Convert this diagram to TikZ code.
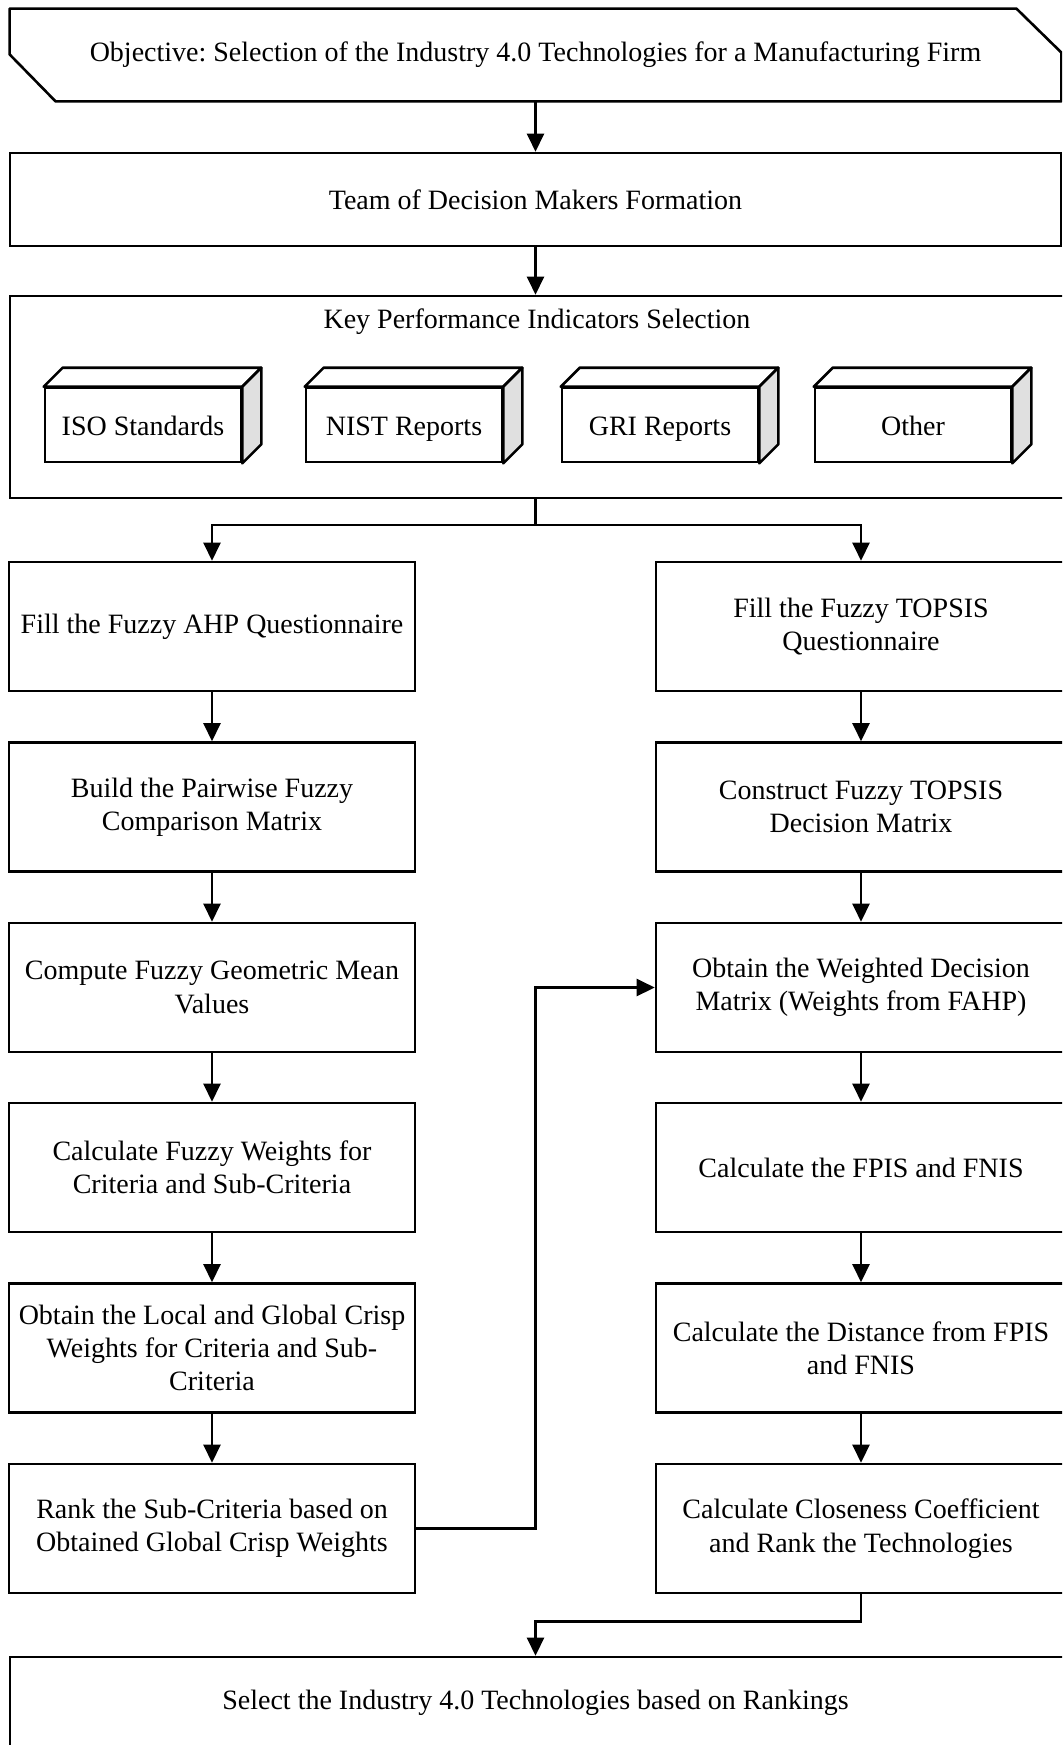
\documentclass[tikz,border=0pt]{standalone}
\usepackage{fontspec}
\setmainfont{Liberation Serif}
\usetikzlibrary{arrows.meta,calc}

\begin{document}
\frenchspacing
\begin{tikzpicture}[x=0.5pt,y=-0.5pt,
  font=\fontsize{14pt}{16.7pt}\selectfont,
  box/.style={draw, line width=1.3pt, align=center, inner sep=0pt},
  lcol/.style={box, minimum width=203pt, minimum height=64.5pt},
  rcol/.style={box, minimum width=205pt, minimum height=64.5pt},
  cubebox/.style={box, fill=white, minimum width=98pt, minimum height=37pt,
    text height=11pt, text depth=1pt},
  face/.style={draw, line width=1.3pt, line join=round},
  link/.style={line width=1.2pt},
  flow/.style={link, -{Triangle[length=9pt,width=8.5pt]}},
]
\useasboundingbox (0,0) rectangle (1062,1745);
\clip (0,0) rectangle (1062,1745);
\fill[white] (0,0) rectangle (1062,1745);

% objective (chamfered at top right and bottom left)
\node[inner sep=0pt, minimum width=525.5pt, minimum height=46pt] (obj) at (535.5,55)
  {Objective: Selection of the Industry 4.0 Technologies for a Manufacturing Firm};
\draw[face] (obj.north west) -- ($(obj.north east)+(-45,0)$) -- ($(obj.north east)+(0,44)$)
  -- (obj.south east) -- ($(obj.south west)+(46,0)$) -- ($(obj.south west)+(0,-47)$) -- cycle;

% team formation
\node[box, minimum width=525.5pt, minimum height=46.5pt] (team) at (535.5,199.5)
  {Team of Decision Makers Formation};

% KPI selection with its sources
\node[box, minimum width=532.5pt, minimum height=101pt] (key) at (542.5,397) {};
\node (kpi) at (537,322) {Key Performance Indicators Selection};

\newcommand{\cubeat}[3]{%
  \node[cubebox] (#1) at (#2,425) {#3};
  \draw[face, fill=white] (#1.north west) -- ++(19,-19) -- ($(#1.north east)+(19,-19)$)
    -- (#1.north east) -- cycle;
  \draw[face, fill=black!12] (#1.north east) -- ++(19,-19) -- ($(#1.south east)+(19,-19)$)
    -- (#1.south east) -- cycle;
}
\cubeat{iso}{143}{ISO Standards}
\cubeat{nist}{404}{NIST Reports}
\cubeat{gri}{660}{GRI Reports}
\cubeat{other}{913}{Other}

% fuzzy AHP branch
\node[lcol] (L1) at (212,626.5) {Fill the Fuzzy AHP Questionnaire};
\node[lcol] (L2) at (212,807) {Build the Pairwise Fuzzy\\Comparison Matrix};
\node[lcol] (L3) at (212,987.5) {Compute Fuzzy Geometric Mean\\Values};
\node[lcol] (L4) at (212,1167.5) {Calculate Fuzzy Weights for\\Criteria and Sub-Criteria};
\node[lcol] (L5) at (212,1348) {Obtain the Local and Global Crisp\\Weights for Criteria and Sub-\\Criteria};
\node[lcol] (L6) at (212,1528.5) {Rank the Sub-Criteria based on\\Obtained Global Crisp Weights};

% fuzzy TOPSIS branch
\node[rcol] (R1) at (861,626.5) {Fill the Fuzzy TOPSIS\\Questionnaire};
\node[rcol] (R2) at (861,807) {Construct Fuzzy TOPSIS\\Decision Matrix};
\node[rcol] (R3) at (861,987.5) {Obtain the Weighted Decision\\Matrix (Weights from FAHP)};
\node[rcol] (R4) at (861,1167.5) {Calculate the FPIS and FNIS};
\node[rcol] (R5) at (861,1348) {Calculate the Distance from FPIS\\and FNIS};
\node[rcol] (R6) at (861,1528.5) {Calculate Closeness Coefficient\\and Rank the Technologies};

% final selection
\node[box, minimum width=532.5pt, minimum height=46pt] (final) at (542.5,1703) {};
\node (finaltxt) at (535.5,1703) {Select the Industry 4.0 Technologies based on Rankings};

% connectors
\coordinate (split) at (535.5,525);
\draw[flow] (obj.south) -- (team.north);
\draw[flow] (team.south) -- (team.south |- key.north);
\draw[link] (split |- key.south) -- (split);
\draw[flow] (split) -| (L1.north);
\draw[flow] (split) -| (R1.north);
\foreach \a/\b in {L1/L2,L2/L3,L3/L4,L4/L5,L5/L6,R1/R2,R2/R3,R3/R4,R4/R5,R5/R6}
  \draw[flow] (\a.south) -- (\b.north);
\draw[flow] (L6.east) -- (L6.east -| split) |- (R3.west);
\draw[flow] (R6.south) -- ++(0,27) coordinate (join) -| (split |- final.north);
\end{tikzpicture}
\end{document}
